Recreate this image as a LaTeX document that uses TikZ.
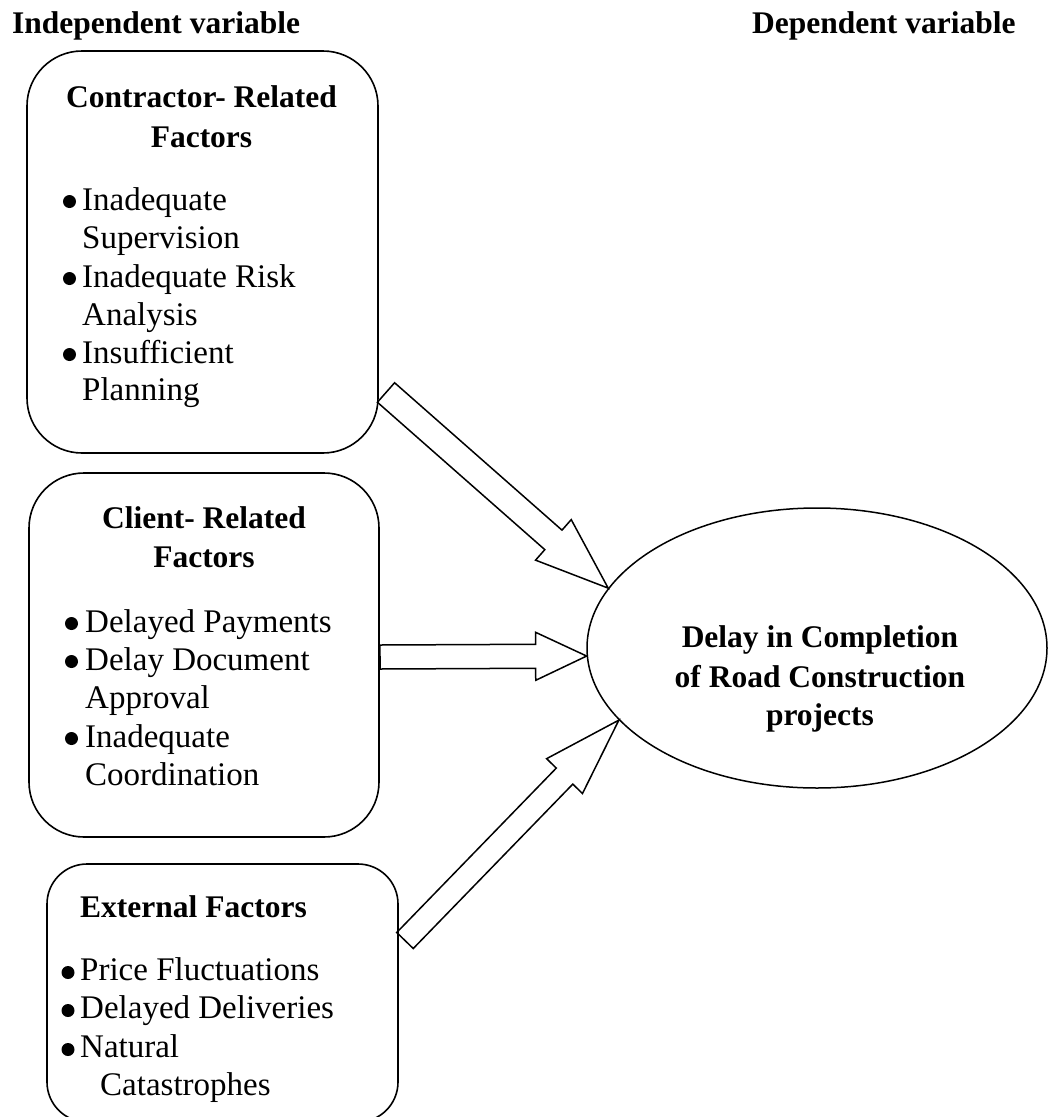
\documentclass[tikz,border=0pt]{standalone}
\usepackage{fontspec}
\setmainfont{Liberation Serif}
\usetikzlibrary{calc,shapes.geometric}
\tikzset{
  box/.style={draw, line width=1.6pt, rounded corners=55pt, inner sep=0pt},
  head/.style={font=\bfseries\fontsize{31.5}{40}\selectfont, inner sep=0pt, anchor=base},
  item/.style={font=\fontsize{33}{38}\selectfont, inner sep=0pt, anchor=base west},
  dot/.style={circle, fill, inner sep=0pt, minimum size=13pt},
  blk/.style={draw, line width=1.5pt, line join=miter},
}
\newcommand\blockarrow[5]{%
  \path ($(#2)!#5!(#1)$) coordinate (tmpJ);
  \draw[blk] ($(#1)!#3!90:(#2)$) -- ($(tmpJ)!#3!90:(#2)$) -- ($(tmpJ)!#4!90:(#2)$) -- (#2)
    -- ($(tmpJ)!#4!-90:(#2)$) -- ($(tmpJ)!#3!-90:(#2)$) -- ($(#1)!#3!-90:(#2)$) -- cycle;}
\begin{document}
\begin{tikzpicture}[x=1pt,y=-1pt]
\clip (0,0) rectangle (1048,1117);
% titles
\node[head, anchor=base west] (tind) at (12,33) {Independent variable};
\node[head, anchor=base west] (tdep) at (752,33) {Dependent variable};
% box 1
\node[box, minimum width=351pt, minimum height=402pt] (b1) at (202.5,252) {};
\node[head] (h1a) at (201.5,107) {Contractor- Related};
\node[head] (h1b) at (201.5,147) {Factors};
\node[dot] (u1a) at (69.5,201.5) {};
\node[item] (l1a) at (82,210) {Inadequate};
\node[item] (l1b) at (82,248) {Supervision};
\node[dot] (u1b) at (69.5,278.5) {};
\node[item] (l1c) at (82,287) {Inadequate Risk};
\node[item] (l1d) at (82,325) {Analysis};
\node[dot] (u1c) at (69.5,354.5) {};
\node[item] (l1e) at (82,363) {Insufficient};
\node[item] (l1f) at (82,400) {Planning};
% box 2
\node[box, minimum width=350pt, minimum height=364pt] (b2) at (204,655) {};
\node[head] (h2a) at (204,528) {Client- Related};
\node[head] (h2b) at (204,567) {Factors};
\node[dot] (u2a) at (71.5,623.5) {};
\node[item] (l2a) at (85,632) {Delayed Payments};
\node[dot] (u2b) at (71.5,661.5) {};
\node[item] (l2b) at (85,670) {Delay Document};
\node[item] (l2c) at (85,708) {Approval};
\node[dot] (u2c) at (71.5,738.5) {};
\node[item] (l2d) at (85,747) {Inadequate};
\node[item] (l2e) at (85,785) {Coordination};
% box 3
\node[box, rounded corners=40pt, minimum width=351pt, minimum height=258pt] (b3) at (222.5,993) {};
\node[head, anchor=base west] (h3) at (80,917) {External Factors};
\node[dot] (u3a) at (68,972.5) {};
\node[item] (l3a) at (80,980) {Price Fluctuations};
\node[dot] (u3b) at (68,1010.5) {};
\node[item] (l3b) at (80,1018) {Delayed Deliveries};
\node[dot] (u3c) at (68,1049.5) {};
\node[item] (l3c) at (80,1057) {Natural};
\node[item] (l3d) at (100,1095) {Catastrophes};
% ellipse
\node[draw, ellipse, line width=1.5pt, minimum width=460pt, minimum height=280pt, inner sep=0pt] (el) at (817,648) {};
\node[head] (e1) at (820,647) {Delay in Completion};
\node[head] (e2) at (820,687) {of Road Construction};
\node[head] (e3) at (820,725) {projects};
% block arrows
\coordinate (a1t) at (386,392.5);
\coordinate (a1h) at (el.164);
\blockarrow{a1t}{a1h}{13pt}{27pt}{73pt}
\coordinate (a2t) at (380,657);
\coordinate (a2h) at (el.182);
\blockarrow{a2t}{a2h}{12pt}{24pt}{51pt}
\coordinate (a3t) at (405,940.5);
\coordinate (a3h) at (el.200.5);
\blockarrow{a3t}{a3h}{11.5pt}{25pt}{78pt}
\end{tikzpicture}
\end{document}
